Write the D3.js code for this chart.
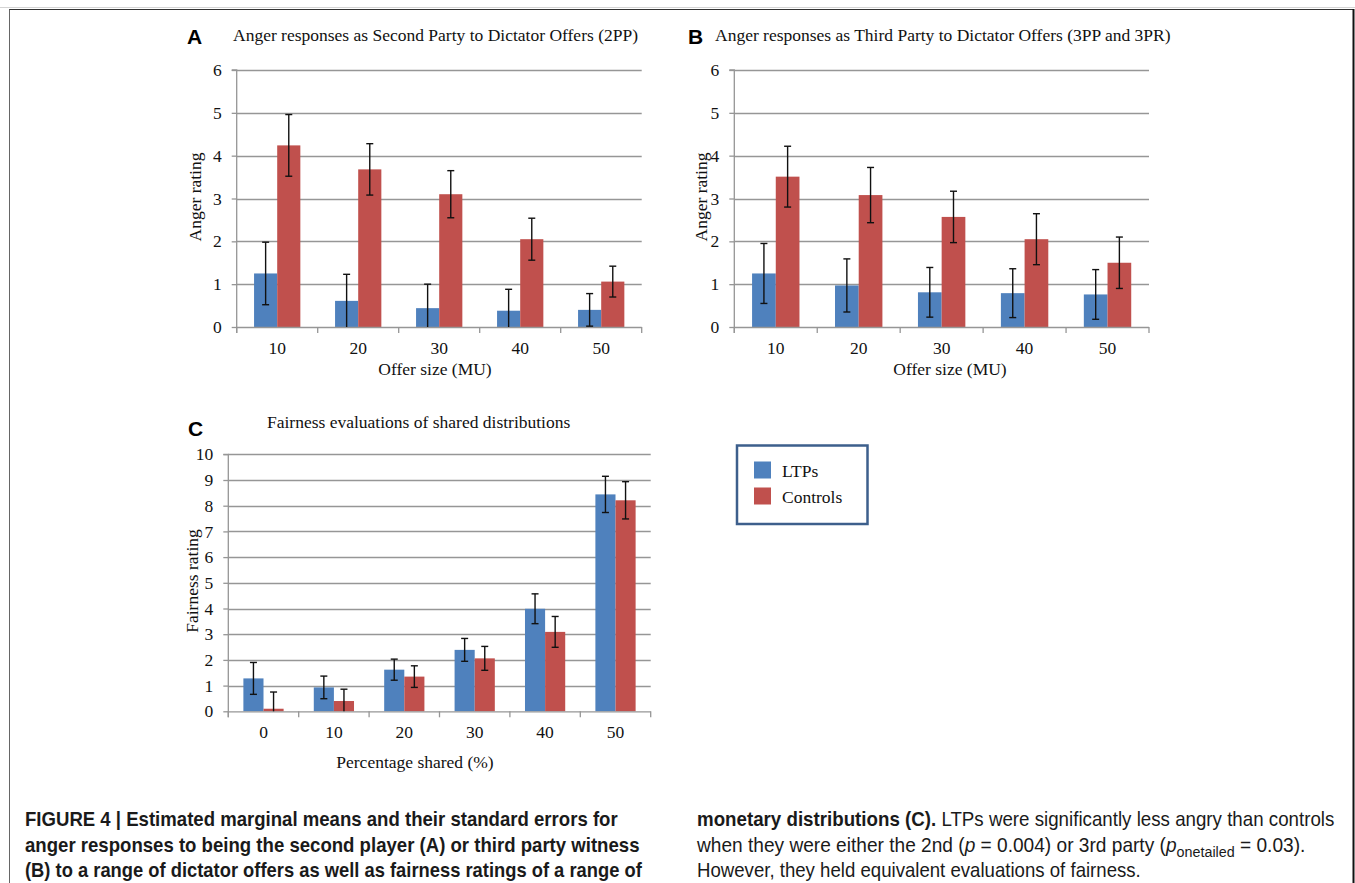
<!DOCTYPE html>
<html>
<head>
<meta charset="utf-8">
<script src="https://cdn.jsdelivr.net/npm/d3@7"></script>
<style>
  html, body { margin: 0; padding: 0; background: #fff; }
  svg { display: block; }
</style>
</head>
<body>
<svg id="chart" width="1355" height="883"></svg>
<script>
// ---------------- DATA ----------------
const seriesNames = ["LTPs", "Controls"];
const seriesColors = ["#4F81BD", "#C0504D"];

const offerCategories = ["10", "20", "30", "40", "50"];
const angerTicks = [0, 1, 2, 3, 4, 5, 6];

const secondPartyLTPs      = [1.25, 0.61, 0.44, 0.38, 0.40];
const secondPartyLTPsSE    = [0.73, 0.62, 0.56, 0.50, 0.38];
const secondPartyControls  = [4.24, 3.68, 3.10, 2.05, 1.06];
const secondPartyControlsSE= [0.72, 0.60, 0.55, 0.49, 0.36];

const thirdPartyLTPs       = [1.25, 0.97, 0.81, 0.79, 0.76];
const thirdPartyLTPsSE     = [0.70, 0.62, 0.58, 0.57, 0.58];
const thirdPartyControls   = [3.51, 3.08, 2.57, 2.05, 1.50];
const thirdPartyControlsSE = [0.71, 0.645, 0.60, 0.595, 0.60];

const sharedCategories = ["0", "10", "20", "30", "40", "50"];
const fairnessTicks = [0, 1, 2, 3, 4, 5, 6, 7, 8, 9, 10];
const fairnessLTPs       = [1.28, 0.93, 1.62, 2.39, 3.99, 8.44];
const fairnessLTPsSE     = [0.62, 0.44, 0.41, 0.445, 0.58, 0.705];
const fairnessControls   = [0.10, 0.40, 1.35, 2.06, 3.09, 8.21];
const fairnessControlsSE = [0.65, 0.46, 0.42, 0.465, 0.60, 0.725];

const captionLeft = [
  [{t: "FIGURE 4 | Estimated marginal means and their standard errors for", b: true}],
  [{t: "anger responses to being the second player (A) or third party witness", b: true}],
  [{t: "(B) to a range of dictator offers as well as fairness ratings of a range of", b: true}]
];
const captionRight = [
  [{t: "monetary distributions (C).", b: true}, {t: " LTPs were significantly less angry than controls"}],
  [{t: "when they were either the 2nd ("}, {t: "p", i: true}, {t: " = 0.004) or 3rd party ("}, {t: "p", i: true},
   {t: "onetailed", sub: true}, {t: " = 0.03).", unsub: true}],
  [{t: "However, they held equivalent evaluations of fairness."}]
];

// ---------------- DRAW ----------------
const svg = d3.select("#chart");
const serif = "'Liberation Serif', 'Times New Roman', serif";
const sans = "'Liberation Sans', Arial, sans-serif";

svg.append("rect").attr("width", 1355).attr("height", 883).attr("fill", "#fff");

// page frame
svg.append("line").attr("x1", 0).attr("x2", 1355).attr("y1", 7.5).attr("y2", 7.5)
  .attr("stroke", "#d4d4d4").attr("stroke-width", 1);
svg.append("line").attr("x1", 9).attr("x2", 1354).attr("y1", 9.5).attr("y2", 9.5)
  .attr("stroke", "#333").attr("stroke-width", 1);
svg.append("line").attr("x1", 9.5).attr("x2", 9.5).attr("y1", 9.5).attr("y2", 883)
  .attr("stroke", "#666").attr("stroke-width", 1);
svg.append("line").attr("x1", 1353.5).attr("x2", 1353.5).attr("y1", 9).attr("y2", 883)
  .attr("stroke", "#111").attr("stroke-width", 2);

function drawPanel(cfg) {
  const g = svg.append("g");
  const x0 = d3.scaleBand().domain(cfg.categories).range([cfg.left, cfg.right]).paddingInner(0).paddingOuter(0);
  const x1 = d3.scaleBand().domain(seriesNames).range([0, x0.bandwidth()]).paddingInner(0).paddingOuter(0.75);
  const y = d3.scaleLinear().domain([0, d3.max(cfg.ticks)]).range([cfg.bottom, cfg.top]);

  // gridlines
  g.selectAll("line.grid").data(cfg.ticks.filter(d => d > 0)).join("line")
    .attr("x1", cfg.left).attr("x2", cfg.right)
    .attr("y1", d => Math.round(y(d)) + 0.5).attr("y2", d => Math.round(y(d)) + 0.5)
    .attr("stroke", "#969696").attr("stroke-width", 1.3);

  // y axis
  const yAxis = d3.axisLeft(y).tickValues(cfg.ticks).tickSize(5).tickPadding(10).tickFormat(d3.format("d"));
  const ya = g.append("g").attr("transform", `translate(${cfg.left},0)`).call(yAxis);
  ya.select(".domain").attr("stroke", "#969696").attr("stroke-width", 1.3)
    .attr("d", `M-5,${cfg.top}H0V${cfg.bottom + 6}`);
  ya.selectAll(".tick line").attr("stroke", "#969696").attr("stroke-width", 1.3);
  ya.selectAll(".tick text").attr("font-family", serif).attr("font-size", 17.5).attr("fill", "#111");

  // bars
  const data = cfg.categories.map((c, i) => ({c, vals: [cfg.s1[i], cfg.s2[i]], errs: [cfg.e1[i], cfg.e2[i]]}));
  const groups = g.selectAll("g.cat").data(data).join("g").attr("transform", d => `translate(${x0(d.c)},0)`);
  groups.selectAll("rect").data(d => d.vals.map((v, k) => ({v, k, name: seriesNames[k]}))).join("rect")
    .attr("x", d => x1(d.name)).attr("width", x1.bandwidth())
    .attr("y", d => y(d.v)).attr("height", d => y(0) - y(d.v))
    .attr("fill", d => seriesColors[d.k]);

  // x axis
  const xa = g.append("g").attr("transform", `translate(0,${cfg.bottom})`);
  xa.append("line").attr("x1", cfg.left).attr("x2", cfg.right).attr("y1", 0.5).attr("y2", 0.5)
    .attr("stroke", "#969696").attr("stroke-width", 1.3);
  const bounds = cfg.categories.map(c => x0(c)).concat([cfg.right]);
  xa.selectAll("line.tk").data(bounds).join("line")
    .attr("x1", d => d).attr("x2", d => d).attr("y1", 0).attr("y2", 6)
    .attr("stroke", "#969696").attr("stroke-width", 1.3);
  xa.selectAll("text").data(cfg.categories).join("text")
    .attr("x", d => x0(d) + x0.bandwidth() / 2).attr("y", 27)
    .attr("text-anchor", "middle").attr("font-family", serif).attr("font-size", 17.5).attr("fill", "#111")
    .text(d => d);

  // error bars
  const eb = [];
  data.forEach(d => d.vals.forEach((v, k) => {
    eb.push({cx: x0(d.c) + x1(seriesNames[k]) + x1.bandwidth() / 2, hi: v + d.errs[k], lo: v - d.errs[k]});
  }));
  const ebg = g.append("g").attr("stroke", "#111").attr("stroke-width", 1.4);
  ebg.selectAll("line.v").data(eb).join("line")
    .attr("x1", d => d.cx).attr("x2", d => d.cx)
    .attr("y1", d => y(d.hi)).attr("y2", d => y(Math.max(0, d.lo)));
  ebg.selectAll("line.top").data(eb).join("line")
    .attr("x1", d => d.cx - 3.5).attr("x2", d => d.cx + 3.5)
    .attr("y1", d => y(d.hi)).attr("y2", d => y(d.hi));
  ebg.selectAll("line.bot").data(eb.filter(d => d.lo > 0)).join("line")
    .attr("x1", d => d.cx - 3.5).attr("x2", d => d.cx + 3.5)
    .attr("y1", d => y(d.lo)).attr("y2", d => y(d.lo));

  // titles
  g.append("text").attr("x", cfg.titleX).attr("y", cfg.titleY)
    .attr("font-family", serif).attr("font-size", 17.5).attr("fill", "#111").text(cfg.title);
  g.append("text").attr("x", cfg.letterX).attr("y", cfg.letterY)
    .attr("font-family", sans).attr("font-weight", "bold").attr("font-size", 21).attr("fill", "#000").text(cfg.letter);
  g.append("text").attr("transform", `translate(${cfg.yTitleX},${cfg.yTitleY}) rotate(-90)`)
    .attr("text-anchor", "middle").attr("font-family", serif).attr("font-size", 17.5).attr("fill", "#111")
    .text(cfg.yTitle);
  g.append("text").attr("x", cfg.xTitleX).attr("y", cfg.xTitleY).attr("text-anchor", "middle")
    .attr("font-family", serif).attr("font-size", 17.5).attr("fill", "#111").text(cfg.xTitle);
}

drawPanel({
  categories: offerCategories, ticks: angerTicks,
  s1: secondPartyLTPs, e1: secondPartyLTPsSE, s2: secondPartyControls, e2: secondPartyControlsSE,
  left: 236.7, right: 641.7, top: 70, bottom: 327,
  title: "Anger responses as Second Party to Dictator Offers (2PP)", titleX: 233, titleY: 40.5,
  letter: "A", letterX: 187, letterY: 44,
  yTitle: "Anger rating", yTitleX: 201, yTitleY: 197,
  xTitle: "Offer size (MU)", xTitleX: 435, xTitleY: 375
});

drawPanel({
  categories: offerCategories, ticks: angerTicks,
  s1: thirdPartyLTPs, e1: thirdPartyLTPsSE, s2: thirdPartyControls, e2: thirdPartyControlsSE,
  left: 734.3, right: 1149, top: 70, bottom: 327,
  title: "Anger responses as Third Party to Dictator Offers (3PP and 3PR)", titleX: 715, titleY: 40.5,
  letter: "B", letterX: 688, letterY: 44,
  yTitle: "Anger rating", yTitleX: 707, yTitleY: 197,
  xTitle: "Offer size (MU)", xTitleX: 950, xTitleY: 375
});

drawPanel({
  categories: sharedCategories, ticks: fairnessTicks,
  s1: fairnessLTPs, e1: fairnessLTPsSE, s2: fairnessControls, e2: fairnessControlsSE,
  left: 228.3, right: 650.7, top: 454.3, bottom: 711.3,
  title: "Fairness evaluations of shared distributions", titleX: 267, titleY: 427.5,
  letter: "C", letterX: 188, letterY: 436,
  yTitle: "Fairness rating", yTitleX: 198, yTitleY: 581,
  xTitle: "Percentage shared (%)", xTitleX: 415, xTitleY: 767.5
});

// legend
const lg = svg.append("g");
lg.append("rect").attr("x", 737).attr("y", 445.5).attr("width", 130.5).attr("height", 78.5)
  .attr("fill", "#fff").attr("stroke", "#3d5f8c").attr("stroke-width", 2.5);
const ly = d3.scalePoint().domain(seriesNames).range([461.5, 487.5]);
lg.selectAll("rect.sw").data(seriesNames).join("rect")
  .attr("x", 754).attr("y", d => ly(d)).attr("width", 17).attr("height", 17)
  .attr("fill", (d, i) => seriesColors[i]);
lg.selectAll("text").data(seriesNames).join("text")
  .attr("x", 782).attr("y", d => ly(d) + 15)
  .attr("font-family", serif).attr("font-size", 17.5).attr("fill", "#111").text(d => d);

// caption
function captionLine(segs, x, yb, target) {
  const t = svg.append("text").attr("font-family", sans).attr("font-size", 20).attr("fill", "#1a1a1a")
    .attr("transform", `translate(${x},${yb})`);
  segs.forEach(s => {
    const ts = t.append("tspan").text(s.t);
    if (s.b) ts.attr("font-weight", "bold");
    if (s.i) ts.attr("font-style", "italic");
    if (s.sub) ts.attr("font-size", 15).attr("dy", 5);
    if (s.unsub) ts.attr("dy", -5);
  });
  const w = t.node().getComputedTextLength();
  t.attr("transform", `translate(${x},${yb}) scale(${target / w},1)`);
}
const leftTargets = [593, 615, 617];
const rightTargets = [638, 609, 444];
const baselines = [826, 852, 877];
captionLeft.forEach((l, i) => captionLine(l, 25, baselines[i], leftTargets[i]));
captionRight.forEach((l, i) => captionLine(l, 697, baselines[i], rightTargets[i]));
</script>
</body>
</html>
